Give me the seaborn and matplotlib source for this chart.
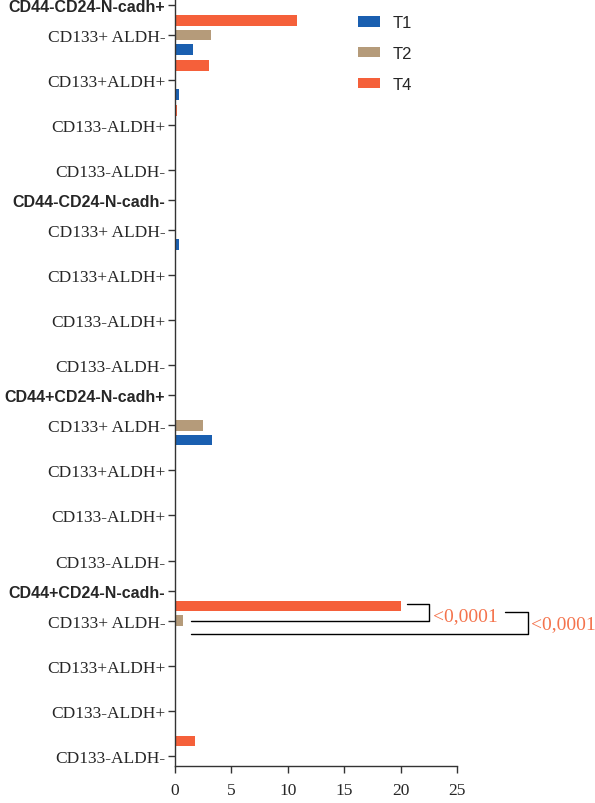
import matplotlib.pyplot as plt
import seaborn as sns
import pandas as pd
from matplotlib.patches import Patch

# chart data -------------------------------------------------------------
groups = ['CD44-CD24-N-cadh+', 'CD44-CD24-N-cadh-', 'CD44+CD24-N-cadh+', 'CD44+CD24-N-cadh-']
subsets = ['CD133+ ALDH-', 'CD133+ALDH+', 'CD133-ALDH+', 'CD133-ALDH-']
times = ['T1', 'T2', 'T4']

# one row per group, values ordered like subsets
t1_vals = [[1.6, 0.35, 0, 0], [0.35, 0, 0, 0], [3.25, 0, 0, 0], [0, 0, 0, 0]]
t2_vals = [[3.2, 0, 0, 0], [0, 0, 0, 0], [2.45, 0, 0, 0], [0.75, 0, 0, 0]]
t4_vals = [[10.8, 3.0, 0.2, 0], [0, 0, 0, 0], [0, 0, 0, 0], [20.0, 0, 0, 1.75]]

p_label = '<0,0001'
x_ticks = [0, 5, 10, 15, 20, 25]

# layout -----------------------------------------------------------------
header_gap = 0.667
group_span = 3 + 2 * header_gap
colors = {'T1': '#1a5fb0', 'T2': '#b59b7a', 'T4': '#f5603a'}
p_color = '#f4734c'

rows = []
for g in range(len(groups)):
    for k in range(len(subsets)):
        pos = g * group_span + header_gap + k
        for t, vals in zip(times, [t1_vals, t2_vals, t4_vals]):
            rows.append({'pos': pos, 'value': vals[g][k], 'time': t})
df = pd.DataFrame(rows)

sns.set_style('ticks')
plt.rcParams['font.family'] = ['Liberation Serif', 'DejaVu Serif']

fig = plt.figure(figsize=(5.95, 8.04), dpi=100)
ax = fig.add_axes([175 / 595, 37.3 / 804, 282 / 595, 766.7 / 804])

sns.barplot(data=df, x='value', y='pos', hue='time', hue_order=['T4', 'T2', 'T1'],
            orient='h', native_scale=True, palette=colors, saturation=1,
            width=0.97, gap=0.28, errorbar=None, linewidth=0, legend=False, ax=ax)

# y ticks: group headers + subsets
tick_pos, tick_lab, is_head = [], [], []
for g, name in enumerate(groups):
    tick_pos.append(g * group_span)
    tick_lab.append(name)
    is_head.append(True)
    for k, s in enumerate(subsets):
        tick_pos.append(g * group_span + header_gap + k)
        tick_lab.append(s)
        is_head.append(False)
last = tick_pos[-1]
ax.set_ylim(last + 0.22, -0.13)
ax.set_yticks(tick_pos)
ax.set_yticklabels(tick_lab)
for lab, head in zip(ax.get_yticklabels(), is_head):
    if head:
        lab.set_fontfamily(['Liberation Sans', 'DejaVu Sans'])
        lab.set_fontweight('bold')
        lab.set_fontsize(11.5)
    else:
        lab.set_fontsize(12.5)

ax.set_xlim(0, 25)
ax.set_xticks(x_ticks)
ax.set_xticklabels([str(v) for v in x_ticks], fontsize=12.5)
ax.set_xlabel('')
ax.set_ylabel('')
ax.tick_params(axis='both', length=5, width=1, color='#333333')
ax.tick_params(axis='y', pad=2)
ax.tick_params(axis='x', pad=7)
sns.despine(ax=ax)
for side in ['left', 'bottom']:
    ax.spines[side].set_color('#333333')
    ax.spines[side].set_linewidth(1)

# significance brackets on CD44+CD24-N-cadh- / CD133+ ALDH-
p = 3 * group_span + header_gap
t4_end = t4_vals[3][0]
x_start = 1.4
kw = dict(color='black', lw=1, clip_on=False)
v1 = t4_end + 2.55
ax.plot([t4_end + 0.55, v1, v1, x_start], [p - 0.38, p - 0.38, p, p], **kw)
ax.text(v1 + 0.35, p - 0.02, p_label, color=p_color, fontsize=14, va='baseline', clip_on=False)
v2 = 31.27
ax.plot([29.26, v2, v2, x_start], [p - 0.19, p - 0.19, p + 0.29, p + 0.29], **kw)
ax.text(v2 + 0.3, p + 0.16, p_label, color=p_color, fontsize=14, va='baseline', clip_on=False)

handles = [Patch(facecolor=colors[t], edgecolor='none', label=t) for t in times]
ax.legend(handles=handles, loc='upper left', bbox_to_anchor=(0.649, 0.979), frameon=False,
          borderpad=0, borderaxespad=0, handlelength=1.3, handleheight=0.6,
          handletextpad=0.8, labelspacing=0.95,
          prop={'family': ['Liberation Sans', 'DejaVu Sans'], 'size': 12})

plt.savefig('out.png', dpi=100)
